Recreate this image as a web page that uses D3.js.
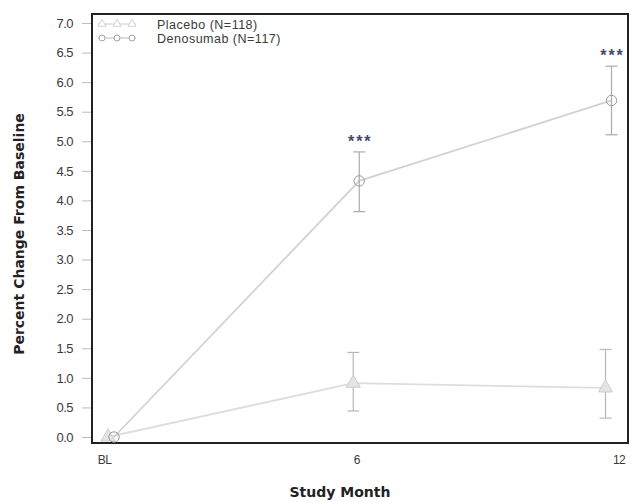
<!DOCTYPE html>
<html>
<head>
<meta charset="utf-8">
<script src="https://cdn.jsdelivr.net/npm/d3@7"></script>
<style>
  body { margin: 0; background: #fff; }
  svg { display: block; }
</style>
</head>
<body>
<svg id="chart" width="631" height="502"></svg>
<script>
// Study visits (months) and their axis labels
const months = [0, 6, 12];
const monthLabels = ["BL", "6", "12"];

// Mean percent change from baseline with error bar bounds
const placeboMean = [0.0, 0.91, 0.83];
const placeboLow  = [0.0, 0.44, 0.32];
const placeboHigh = [0.0, 1.43, 1.48];

const denosumabMean = [0.0, 4.33, 5.69];
const denosumabLow  = [0.0, 3.81, 5.11];
const denosumabHigh = [0.0, 4.82, 6.27];

// Significance markers shown above the denosumab error bars
const sigMonths = [6, 12];
const sigLabels = ["***", "***"];

const yTicks = [0, 0.5, 1, 1.5, 2, 2.5, 3, 3.5, 4, 4.5, 5, 5.5, 6, 6.5, 7];

const svg = d3.select("#chart");

const frame = { left: 92, right: 628, top: 14, bottom: 443 };

const x = d3.scaleLinear().domain([0, 12]).range([104, 608.5]);
const y = d3.scaleLinear().domain([0, 7]).range([437, 23]);

const labelColor = "#3a3a3a";

// Plot frame
svg.append("rect")
  .attr("x", frame.left).attr("y", frame.top)
  .attr("width", frame.right - frame.left)
  .attr("height", frame.bottom - frame.top)
  .attr("fill", "none").attr("stroke", "#222").attr("stroke-width", 2);

// Y axis
const yAxis = svg.append("g")
  .attr("transform", `translate(${frame.left - 1},0)`)
  .call(d3.axisLeft(y).tickValues(yTicks).tickFormat(d3.format(".1f")).tickSize(9).tickPadding(9));
yAxis.select(".domain").remove();
yAxis.selectAll(".tick line").attr("stroke", "#bbb");
yAxis.selectAll(".tick text")
  .attr("fill", labelColor)
  .style("font-family", "'Liberation Sans', Arial, sans-serif")
  .style("font-size", "13px")
  .style("letter-spacing", "-0.5px");

// X axis labels
const xAxis = svg.append("g")
  .attr("transform", `translate(0,${frame.bottom})`)
  .call(d3.axisBottom(x).tickValues(months).tickFormat((d, i) => monthLabels[i]).tickSize(0).tickPadding(12));
xAxis.select(".domain").remove();
xAxis.selectAll(".tick text")
  .attr("fill", labelColor)
  .attr("dx", (d, i) => i === 2 ? 10 : 0)
  .style("font-family", "'Liberation Sans', Arial, sans-serif")
  .style("font-size", "12px")
  .style("letter-spacing", "-0.6px");

// Axis titles
svg.append("text")
  .attr("x", 340).attr("y", 497)
  .attr("text-anchor", "middle")
  .attr("fill", "#222")
  .style("font-family", "'DejaVu Sans', Verdana, sans-serif")
  .style("font-size", "14px").style("font-weight", "bold")
  .text("Study Month");

svg.append("text")
  .attr("transform", "translate(24,234) rotate(-90)")
  .attr("text-anchor", "middle")
  .attr("fill", "#222")
  .style("font-family", "'DejaVu Sans', Verdana, sans-serif")
  .style("font-size", "14px").style("font-weight", "bold")
  .text("Percent Change From Baseline");

// Series definitions (small horizontal offset keeps error bars apart)
const series = [
  { name: "Placebo (N=118)", mean: placeboMean, low: placeboLow, high: placeboHigh,
    shift: -3, symbol: d3.symbolTriangle, line: "#dddddd", bar: "#b8b8b8", mark: "#cdcdcd", fill: "#e4e4e4" },
  { name: "Denosumab (N=117)", mean: denosumabMean, low: denosumabLow, high: denosumabHigh,
    shift: 3, symbol: d3.symbolCircle, line: "#d2d2d2", bar: "#aaaaaa", mark: "#9a9a9a", fill: "none" }
];

const px = d => d.m === 0 ? 7 : 0;

series.forEach(s => {
  const pts = months.map((m, i) => ({ m, v: s.mean[i], lo: s.low[i], hi: s.high[i] }));
  const g = svg.append("g");

  g.append("path")
    .datum(pts)
    .attr("fill", "none")
    .attr("stroke", s.line)
    .attr("stroke-width", 1.8)
    .attr("d", d3.line().x(d => x(d.m) + s.shift + px(d)).y(d => y(d.v)));

  const eb = g.selectAll(".eb").data(pts.filter(d => d.hi > d.lo)).join("g");
  eb.append("line")
    .attr("x1", d => x(d.m) + s.shift).attr("x2", d => x(d.m) + s.shift)
    .attr("y1", d => y(d.hi)).attr("y2", d => y(d.lo))
    .attr("stroke", s.bar).attr("stroke-width", 1.2);
  [d => d.hi, d => d.lo].forEach(f => {
    eb.append("line")
      .attr("x1", d => x(d.m) + s.shift - 6).attr("x2", d => x(d.m) + s.shift + 6)
      .attr("y1", d => y(f(d))).attr("y2", d => y(f(d)))
      .attr("stroke", s.bar).attr("stroke-width", 1.2);
  });

  g.selectAll(".pt").data(pts).join("path")
    .attr("transform", d => `translate(${x(d.m) + s.shift + px(d)},${y(d.v)})`)
    .attr("d", d3.symbol().type(s.symbol).size(85))
    .attr("fill", s.fill)
    .attr("stroke", s.mark)
    .attr("stroke-width", 1);
});

// Significance asterisks
svg.selectAll(".sig").data(sigMonths).join("text")
  .attr("x", d => x(d) + 3 + 1)
  .attr("y", d => y(denosumabHigh[months.indexOf(d)]) - 5)
  .attr("text-anchor", "middle")
  .attr("fill", "#434a6c")
  .style("font-family", "'Liberation Sans', Arial, sans-serif")
  .style("font-size", "16px").style("font-weight", "bold")
  .style("letter-spacing", "2px")
  .text((d, i) => sigLabels[i]);

// Legend
const legend = svg.append("g").attr("transform", "translate(98,24)");
series.forEach((s, i) => {
  const row = legend.append("g").attr("transform", `translate(0,${i * 14})`);
  row.append("line").attr("x1", 0).attr("x2", 38).attr("y1", 0).attr("y2", 0)
    .attr("stroke", s.line).attr("stroke-width", 1.4);
  [4, 19, 34].forEach(sx => {
    row.append("path")
      .attr("transform", `translate(${sx},0)`)
      .attr("d", d3.symbol().type(s.symbol).size(28))
      .attr("fill", "#fff").attr("stroke", s.mark).attr("stroke-width", 0.9);
  });
  row.append("text")
    .attr("x", 59).attr("y", 5)
    .attr("fill", labelColor)
    .style("font-family", "'Liberation Sans', Arial, sans-serif")
    .style("font-size", "12.5px")
    .style("letter-spacing", "0.5px")
    .text(s.name);
});
</script>
</body>
</html>
